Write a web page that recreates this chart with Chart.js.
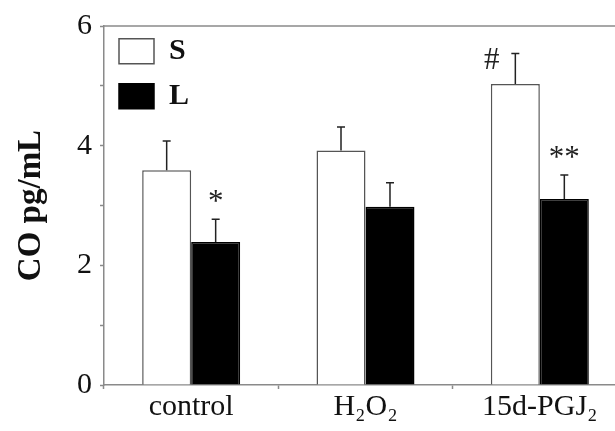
<!DOCTYPE html>
<html>
<head>
<meta charset="utf-8">
<script src="https://cdn.jsdelivr.net/npm/chart.js@4/dist/chart.umd.min.js"></script>
<style>
  html, body { margin: 0; padding: 0; background: #fff; overflow: hidden; }
  #wrap { position: relative; width: 627px; height: 431px; }
</style>
</head>
<body>
<div id="wrap"><canvas id="coChart"></canvas></div>
<script>
const categories = ['control', 'H\u2082O\u2082', '15d-PGJ\u2082'];
const sValues = [3.59, 3.92, 5.03];
const lValues = [2.39, 2.98, 3.11];
const sErrors = [0.49, 0.39, 0.51];
const lErrors = [0.38, 0.40, 0.40];
const sMarks = ['', '', '#'];
const lMarks = ['*', '', '**'];
const yTicks = [0, 2, 4, 6];

const serif = '"Liberation Serif", "DejaVu Serif", serif';
const axisGray = '#8a8a8a';

// error bars (upward only) + significance marks
const errorBars = {
    id: 'errorBars',
    afterDatasetsDraw(chart) {
        const ctx = chart.ctx;
        const y = chart.scales.y;
        chart.data.datasets.forEach((ds, di) => {
            const meta = chart.getDatasetMeta(di);
            meta.data.forEach((bar, i) => {
                const top = y.getPixelForValue(ds.data[i] + ds.errors[i]);
                ctx.save();
                ctx.strokeStyle = '#222';
                ctx.lineWidth = 1.5;
                ctx.beginPath();
                ctx.moveTo(bar.x, bar.y);
                ctx.lineTo(bar.x, top);
                ctx.moveTo(bar.x - 4, top);
                ctx.lineTo(bar.x + 4, top);
                ctx.stroke();
                const mark = ds.marks[i];
                if (mark) {
                    ctx.fillStyle = '#222';
                    ctx.font = '31px ' + serif;
                    ctx.textAlign = 'center';
                    ctx.textBaseline = 'middle';
                    if (di === 0) {
                        ctx.fillText(mark, bar.x - bar.width / 2 + 1, top + 7);
                    } else {
                        ctx.fillText(mark, bar.x, top - 16);
                    }
                }
                ctx.restore();
            });
        });
    }
};

const topFrame = {
    id: 'topFrame',
    beforeDatasetsDraw(chart) {
        const { ctx, chartArea } = chart;
        ctx.save();
        ctx.strokeStyle = axisGray;
        ctx.lineWidth = 1.5;
        ctx.beginPath();
        ctx.moveTo(chartArea.left, chartArea.top);
        ctx.lineTo(chartArea.right, chartArea.top);
        ctx.stroke();
        ctx.restore();
    }
};

new Chart(document.getElementById('coChart'), {
    type: 'bar',
    data: {
        labels: categories,
        datasets: [
            {
                label: 'S',
                data: sValues,
                errors: sErrors,
                marks: sMarks,
                backgroundColor: '#ffffff',
                borderColor: '#555555',
                borderWidth: 1.5
            },
            {
                label: 'L',
                data: lValues,
                errors: lErrors,
                marks: lMarks,
                backgroundColor: '#000000',
                borderColor: '#000000',
                borderWidth: 1.5
            }
        ]
    },
    options: {
        responsive: true,
        maintainAspectRatio: false,
        animation: false,
        categoryPercentage: 0.562,
        barPercentage: 1,
        layout: { padding: { top: 19, left: 0, right: 0, bottom: 0 } },
        plugins: {
            tooltip: { enabled: false },
            legend: {
                position: 'chartArea',
                align: 'start',
                title: {
                    display: true,
                    text: '',
                    font: { size: 1 },
                    padding: { top: 10, bottom: 10 }
                },
                labels: {
                    boxWidth: 35,
                    boxHeight: 25,
                    padding: 15,
                    color: '#111',
                    font: { family: serif, size: 30, weight: 'bold' }
                }
            }
        },
        scales: {
            x: {
                grid: {
                    offset: true,
                    drawOnChartArea: false,
                    tickLength: 4,
                    tickWidth: 1.5,
                    color: axisGray
                },
                border: { color: axisGray, width: 1.5 },
                ticks: {
                    color: '#111',
                    maxRotation: 0,
                    padding: 0,
                    font: { family: serif, size: 30 }
                },
                afterFit(scale) { scale.height = 46; }
            },
            y: {
                min: 0,
                max: 6,
                grid: {
                    drawOnChartArea: false,
                    tickLength: 4,
                    tickWidth: 1.5,
                    color: axisGray
                },
                border: { color: axisGray, width: 1.5 },
                ticks: {
                    stepSize: 1,
                    autoSkip: false,
                    padding: 8,
                    color: '#111',
                    font: { family: serif, size: 30 },
                    callback: v => (yTicks.includes(v) ? v : '')
                },
                title: {
                    display: true,
                    text: 'CO pg/mL',
                    color: '#111',
                    padding: { top: 12, bottom: 0 },
                    font: { family: serif, size: 33, weight: 'bold' }
                },
                afterFit(scale) { scale.width = 104; }
            }
        }
    },
    plugins: [topFrame, errorBars]
});
</script>
</body>
</html>
